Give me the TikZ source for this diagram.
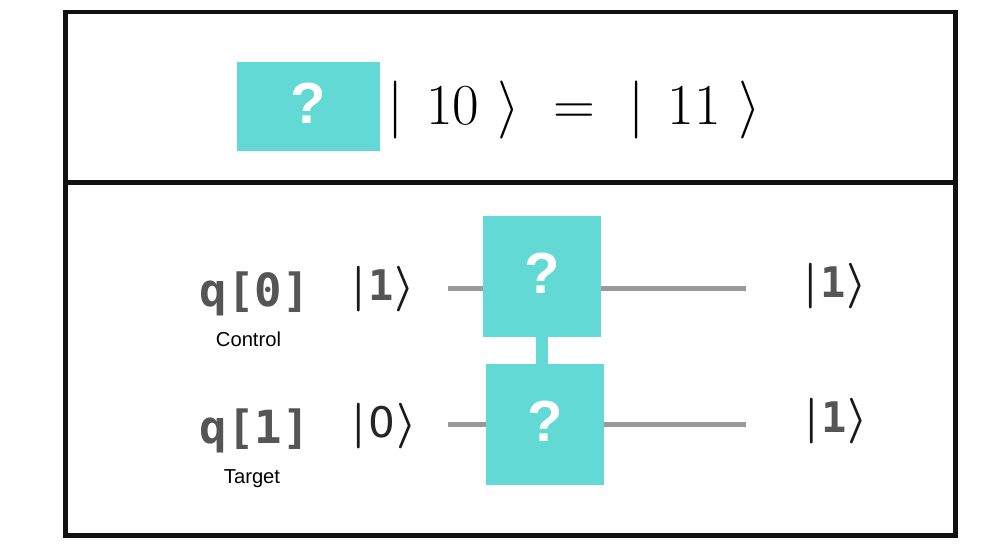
\documentclass[tikz,border=0pt]{standalone}
\usepackage{fix-cm}
\usepackage{amsmath}
\usepackage{fontspec}
\newfontfamily\labelfont{Liberation Sans}
\newfontfamily\qfont{DejaVu Sans Mono}
\newfontfamily\ketfont{DejaVu Sans}
\usetikzlibrary{positioning}
\definecolor{gateteal}{RGB}{98,217,212}
\definecolor{wiregray}{RGB}{154,154,154}
\definecolor{qgray}{RGB}{85,85,85}
\definecolor{framegray}{RGB}{17,17,17}
\newcommand{\qket}[1]{$\boldsymbol{\vert}$\kern1.5pt{\fontsize{24}{26}\selectfont#1}\kern0.5pt$\boldsymbol{\rangle}$}

\begin{document}
\begin{tikzpicture}[x=0.02cm, y=-0.02cm,
    frame/.style={draw=framegray, line width=2.3pt},
    gate/.style={fill=gateteal, text=white, inner sep=0pt, text depth=4pt,
        font=\labelfont\bfseries\fontsize{33}{36}\selectfont},
    wire/.style={draw=wiregray, line width=3.4pt},
    qreg/.style={anchor=base, inner sep=0pt, text=qgray,
        font=\qfont\bfseries\fontsize{26}{30}\selectfont},
    role/.style={inner sep=0pt, font=\labelfont\fontsize{11.5}{13}\selectfont},
    ket/.style={inner sep=0pt, text=black!90, font=\fontsize{26}{30}\selectfont}]
                \useasboundingbox (0,0) rectangle (1000,555);
                \draw [frame] (65.5,12) rectangle (955.5,535.5);
                \draw [frame] (65.5,182.5) -- (955.5,182.5);
                \node [gate, minimum width=2.86cm, minimum height=1.78cm] (box) at (308.5,106.5) {?};
                \node [anchor=base west, inner sep=0pt, font=\fontsize{33}{40}\selectfont] (eq) at (387,124) {$\vert\hspace{13pt}10\hspace{10pt}\rangle\ =\ \vert\hspace{13pt}11\hspace{10pt}\rangle$};
                \node [qreg] (q0) at (255,306) {q[0]};
                \node [qreg] (q1) at (255,443) {q[1]};
                \node [role, below = 0.32cm of q0, xshift=-0.13cm] (ctrl) {Control};
                \node [role, below = 0.32cm of q1, xshift=-0.06cm] (targ) {Target};
                \node [ket] (in0) at (383,289.5) {\qket{{\qfont\bfseries\color{qgray}1}}};
                \node [ket] (in1) at (384,426) {\qket{{\ketfont\color{black!85}0}}};
                \node [ket] (out0) at (835,286.5) {\qket{{\qfont\bfseries\color{qgray}1}}};
                \node [ket] (out1) at (836,421) {\qket{{\qfont\bfseries\color{qgray}1}}};
                \node [gate, minimum width=2.36cm, minimum height=2.42cm] (g0) at (542,276.5) {?};
                \node [gate, minimum width=2.36cm, minimum height=2.42cm] (g1) at (545,424.5) {?};
                \coordinate (w0a) at (448,288.5);
                \coordinate (w0b) at (746,288.5);
                \coordinate (w1a) at (448,424.5);
                \coordinate (w1b) at (746,424.5);
                \draw [wire] (w0a) -- (w0a -| g0.west) (w0b -| g0.east) -- (w0b);
                \draw [wire] (w1a) -- (w1a -| g1.west) (w1b -| g1.east) -- (w1b);
                \draw [gateteal, line width=6.8pt] (g0.south) -- (g0.south |- g1.north);
            \end{tikzpicture}
\end{document}
